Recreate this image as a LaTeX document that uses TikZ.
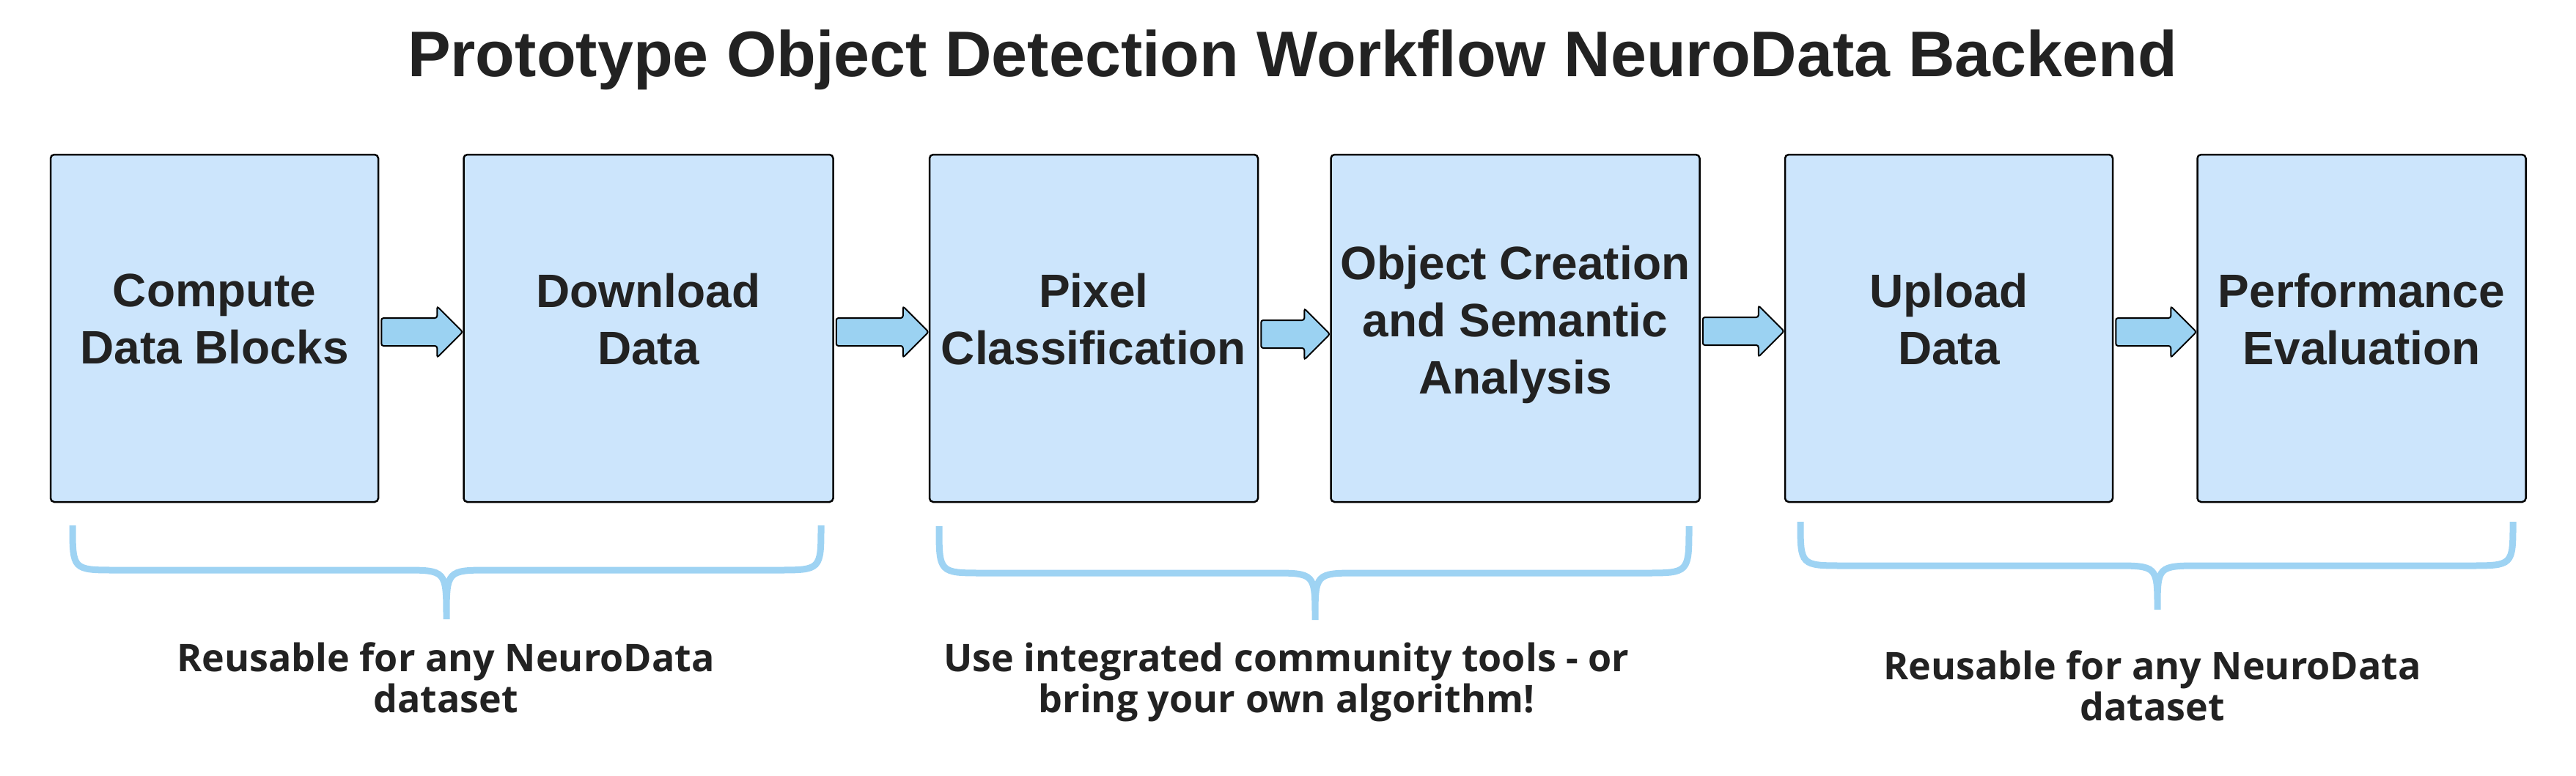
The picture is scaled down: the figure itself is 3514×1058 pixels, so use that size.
\documentclass[tikz,border=0pt]{standalone}
\usepackage{fontspec}
\setmainfont{Liberation Sans}
\newfontfamily\notefont{Open Sans}
\usepackage{xcolor}
\usetikzlibrary{positioning,calc}
\definecolor{boxblue}{HTML}{CCE5FC}
\definecolor{arrowblue}{HTML}{9BD2F2}
\definecolor{braceblue}{HTML}{9ED3F3}
\definecolor{textgray}{HTML}{222222}

\begin{document}
\begin{tikzpicture}[x=1pt,y=-1pt,node distance=114pt]
\tikzstyle{block}=[draw=black,fill=boxblue,line width=2.5pt,rounded corners=5pt,minimum height=474pt,inner sep=0pt]
\tikzstyle{blocktext}=[text=textgray,align=center,font=\fontsize{64pt}{78pt}\selectfont\bfseries]
\tikzstyle{note}=[text=textgray,align=center,font=\notefont\fontsize{52pt}{56pt}\selectfont\bfseries]
\tikzstyle{brace}=[draw=braceblue,line width=9pt]
\tikzstyle{fatarrow}=[draw=black,fill=arrowblue,line width=2pt,rounded corners=3pt,
  to path={let \p1=(\tikztostart), \p2=(\tikztotarget) in
    (\x1+3pt,\y1+19pt) -- (\x2-35pt,\y1+19pt) -- (\x2-35pt,\y1+35pt) -- (\x2,\y1)
    -- (\x2-35pt,\y1-35pt) -- (\x2-35pt,\y1-19pt) -- (\x1+3pt,\y1-19pt) -- cycle}]
\useasboundingbox (0,0) rectangle (3514,1058);

\node[font=\fontsize{88pt}{100pt}\selectfont\bfseries,text=textgray,anchor=base] (title) at (1763,104)
  {Prototype Object Detection Workflow NeuroData Backend};

\node[block,minimum width=447pt] (CB) at (292.5,448) {};
\node[block,minimum width=504pt] (DD) [right=114pt of CB] {};
\node[block,minimum width=448pt] (PC) [right=129pt of DD] {};
\node[block,minimum width=503pt] (OC) [right=97pt of PC]  {};
\node[block,minimum width=447pt] (UD) [right=114pt of OC] {};
\node[block,minimum width=448pt] (PE) [right=113pt of UD] {};

\node[blocktext] (CBt) at ([yshift=12.5pt]CB.center) {Compute\\Data Blocks};
\node[blocktext] (DDt) at ([yshift=12.5pt]DD.center) {Download\\Data};
\node[blocktext] (PCt) at ([yshift=12.5pt]PC.center) {Pixel\\Classification};
\node[blocktext] (OCt) at ([yshift=5pt]OC.center)    {Object Creation\\and Semantic\\Analysis};
\node[blocktext] (UDt) at ([yshift=12.5pt]UD.center) {Upload\\Data};
\node[blocktext] (PEt) at ([yshift=12.5pt]PE.center) {Performance\\Evaluation};

\path
([yshift=-5pt]CB.east) edge [fatarrow] ([yshift=-5pt]DD.west)
([yshift=-5pt]DD.east) edge [fatarrow] ([yshift=-5pt]PC.west)
([yshift=-8pt]PC.east) edge [fatarrow] ([yshift=-8pt]OC.west)
([yshift=-4pt]OC.east) edge [fatarrow] ([yshift=-4pt]UD.west)
([yshift=-5pt]UD.east) edge [fatarrow] ([yshift=-5pt]PE.west);

% braces under the three groups
\draw[brace] (99,717) .. controls (99,778) .. (159,778) -- (549,778) .. controls (609,778) .. (609,845)
  .. controls (609,778) .. (669,778) -- (1060,778) .. controls (1120,778) .. (1120,717);
\draw[brace] (1281,718) .. controls (1281,782) .. (1341,782) -- (1734,782) .. controls (1794,782) .. (1794,846)
  .. controls (1794,782) .. (1854,782) -- (2244,782) .. controls (2304,782) .. (2304,718);
\draw[brace] (2456,712) .. controls (2456,772) .. (2516,772) -- (2883,772) .. controls (2943,772) .. (2943,832)
  .. controls (2943,772) .. (3003,772) -- (3368,772) .. controls (3428,772) .. (3428,712);

\node[note] (N1) at (608,925)  {Reusable for any NeuroData\\dataset};
\node[note] (N2) at (1755,931) {Use integrated community tools - or\\bring your own algorithm!};
\node[note] (N3) at (2936,936) {Reusable for any NeuroData\\dataset};
\end{tikzpicture}
\end{document}
